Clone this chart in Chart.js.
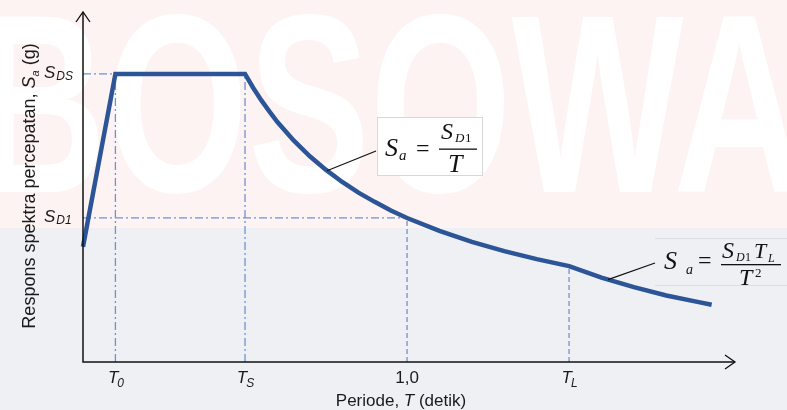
<!DOCTYPE html>
<html><head><meta charset="utf-8">
<script src="https://cdn.jsdelivr.net/npm/chart.js@4/dist/chart.umd.min.js"></script>
<style>html,body{margin:0;padding:0;background:#fff;}#wrap{width:787px;height:410px;position:relative}</style>
</head><body><div id="wrap"><canvas id="c" width="787" height="410"></canvas></div>
<script>
// ---- data (T in s, Sa in g; SDS = 1.0, SD1 = 0.5 normalised) ----
const periodT    = [0, 0.1, 0.5, 0.525, 0.55, 0.575, 0.6, 0.65, 0.7, 0.75, 0.8, 0.85, 0.9, 0.95, 1.0, 1.1, 1.2, 1.3, 1.4, 1.5, 1.6, 1.7, 1.8, 1.9, 1.94];
const spectrumSa = [0.4, 1.0, 1.0, 0.952, 0.909, 0.870, 0.833, 0.769, 0.714, 0.667, 0.625, 0.588, 0.556, 0.526, 0.500, 0.455, 0.417, 0.385, 0.357, 0.333, 0.293, 0.260, 0.231, 0.208, 0.199];
const SDS = 1.0, SD1 = 0.5, T0 = 0.1, TS = 0.5, T1 = 1.0, TL = 1.5, SaTL = 0.333;
const xTickValues = [T0, TS, T1, TL];
const xTickLabels = [['T','0'], ['T','S'], ['1,0',''], ['T','L']];
const yTickValues = [SDS, SD1];
const yTickLabels = [['S','DS'], ['S','D1']];
const leaderAnchors = [[0.753, 0.664], [1.62, 0.286]];
const xMax = 2.012, yMax = 1.215;

const guideColor = '#6f91d4';
const dashDot = [8, 3, 2, 3];
const dashed = [5, 3];
function guide(pts, dash){
  return {data: pts, borderColor: guideColor, borderWidth: 1.3, borderDash: dash, pointRadius: 0, order: 2, clip: false, tension: 0};
}

const SANS = '"Liberation Sans", Arial, sans-serif';
const SERIF = '"Liberation Serif", "Times New Roman", serif';

const deco = {
  id: 'deco',
  beforeDraw(chart){
    const ctx = chart.ctx;
    ctx.save();
    ctx.fillStyle = '#ffffff'; ctx.fillRect(0,0,787,410);
    ctx.fillStyle = '#fdf3f3'; ctx.fillRect(0,0,787,228);
    ctx.fillStyle = '#eff0f4'; ctx.fillRect(0,228,787,182);
    // faint watermark
    ctx.save();
    ctx.beginPath(); ctx.rect(0,0,787,228); ctx.clip();
    ctx.font = 'bold 254px ' + SANS;
    const w = ctx.measureText('BOSOWA').width;
    ctx.translate(-25, 192);
    ctx.scale(830 / w, 1);
    ctx.fillStyle = '#ffffff';
    ctx.fillText('BOSOWA', 0, 0);
    ctx.restore();
    ctx.restore();
  },
  afterDatasetsDraw(chart){
    const ctx = chart.ctx, xs = chart.scales.x, ys = chart.scales.y;
    const ca = chart.chartArea;
    ctx.save();
    // axes
    ctx.strokeStyle = '#111'; ctx.lineWidth = 1.5;
    ctx.beginPath();
    ctx.moveTo(ca.left, ca.top); ctx.lineTo(ca.left, ca.bottom); ctx.lineTo(ca.right, ca.bottom);
    ctx.stroke();
    ctx.lineWidth = 1.3;
    ctx.beginPath();
    ctx.moveTo(ca.left - 7, ca.top + 10); ctx.lineTo(ca.left, ca.top); ctx.lineTo(ca.left + 7, ca.top + 10);
    ctx.moveTo(ca.right - 10, ca.bottom - 7); ctx.lineTo(ca.right, ca.bottom); ctx.lineTo(ca.right - 10, ca.bottom + 7);
    ctx.stroke();

    ctx.fillStyle = '#1a1a1a';
    ctx.textBaseline = 'alphabetic';
    // x tick labels
    xTickValues.forEach((v, i) => {
      const px = xs.getPixelForValue(v);
      const [main, sub] = xTickLabels[i];
      if (!sub) {
        ctx.font = '17px ' + SANS; ctx.textAlign = 'center';
        ctx.fillText(main, px, 383);
      } else {
        ctx.textAlign = 'left';
        ctx.font = 'italic 17px ' + SANS;
        const mw = ctx.measureText(main).width;
        ctx.font = 'italic 12px ' + SANS;
        const sw = ctx.measureText(sub).width;
        const x0 = px - (mw + sw) / 2 + 1;
        ctx.font = 'italic 17px ' + SANS; ctx.fillText(main, x0, 383);
        ctx.font = 'italic 12px ' + SANS; ctx.fillText(sub, x0 + mw - 1, 387);
      }
    });
    // y tick labels
    yTickValues.forEach((v, i) => {
      const py = ys.getPixelForValue(v);
      const [main, sub] = yTickLabels[i];
      ctx.textAlign = 'left';
      ctx.font = 'italic 17px ' + SANS;
      const mw = ctx.measureText(main).width;
      ctx.fillText(main, 44, py + 4);
      ctx.font = 'italic 12px ' + SANS;
      ctx.fillText(sub, 44 + mw + 1, py + 6);
    });
    // x title
    ctx.textAlign = 'left';
    const p1 = 'Periode, ', p2 = 'T', p3 = ' (detik)';
    ctx.font = '17px ' + SANS; const w1 = ctx.measureText(p1).width, w3 = ctx.measureText(p3).width;
    ctx.font = 'italic 17px ' + SANS; const w2 = ctx.measureText(p2).width;
    let tx = 401 - (w1 + w2 + w3) / 2;
    ctx.font = '17px ' + SANS; ctx.fillText(p1, tx, 406);
    ctx.font = 'italic 17px ' + SANS; ctx.fillText(p2, tx + w1, 406);
    ctx.font = '17px ' + SANS; ctx.fillText(p3, tx + w1 + w2, 406);
    // y title (rotated)
    ctx.save();
    ctx.translate(35, 186);
    ctx.rotate(-Math.PI / 2);
    const q1 = 'Respons spektra percepatan, ', q2 = 'S', q3 = 'a', q4 = ' (g)';
    const fs = 18;
    ctx.font = fs + 'px ' + SANS; const v1 = ctx.measureText(q1).width, v4 = ctx.measureText(q4).width;
    ctx.font = 'italic ' + fs + 'px ' + SANS; const v2 = ctx.measureText(q2).width;
    ctx.font = 'italic 11px ' + SANS; const v3 = ctx.measureText(q3).width;
    let qx = -(v1 + v2 + v3 + v4) / 2;
    ctx.font = fs + 'px ' + SANS; ctx.fillText(q1, qx, 0);
    ctx.font = 'italic ' + fs + 'px ' + SANS; ctx.fillText(q2, qx + v1, 0);
    ctx.font = 'italic 11px ' + SANS; ctx.fillText(q3, qx + v1 + v2, 4);
    ctx.font = fs + 'px ' + SANS; ctx.fillText(q4, qx + v1 + v2 + v3, 0);
    ctx.restore();

    // formula box 1
    ctx.fillStyle = '#ffffff';
    ctx.fillRect(378, 117, 105, 58);
    ctx.strokeStyle = '#d8d8d8'; ctx.lineWidth = 1;
    ctx.strokeRect(377.5, 117.5, 105, 58);
    // leader lines
    ctx.strokeStyle = '#111'; ctx.lineWidth = 1.2;
    const a1 = leaderAnchors[0], a2 = leaderAnchors[1];
    ctx.beginPath();
    ctx.moveTo(xs.getPixelForValue(a1[0]), ys.getPixelForValue(a1[1]));
    ctx.lineTo(376, 151);
    ctx.moveTo(xs.getPixelForValue(a2[0]), ys.getPixelForValue(a2[1]));
    ctx.lineTo(655, 263);
    ctx.stroke();

    ctx.fillStyle = '#111';
    ctx.textAlign = 'left';
    ctx.font = 'italic 26px ' + SERIF; ctx.fillText('S', 385, 156);
    ctx.font = 'italic 15px ' + SERIF; ctx.fillText('a', 399, 160);
    ctx.font = '24px ' + SERIF; ctx.fillText('=', 416, 156);
    ctx.font = 'italic 24px ' + SERIF; ctx.fillText('S', 441, 139);
    ctx.font = 'italic 13px ' + SERIF; ctx.fillText('D', 455, 142);
    ctx.font = '13px ' + SERIF; ctx.fillText('1', 465, 142);
    ctx.fillRect(439, 148.5, 38, 1.3);
    ctx.font = 'italic 26px ' + SERIF; ctx.fillText('T', 448, 172);

    // formula 2 (faint box lines)
    ctx.strokeStyle = '#dcdde2'; ctx.lineWidth = 1;
    ctx.beginPath();
    ctx.moveTo(655, 238.5); ctx.lineTo(787, 238.5);
    ctx.moveTo(655, 285.5); ctx.lineTo(787, 285.5);
    ctx.stroke();
    ctx.fillStyle = '#111';
    ctx.font = 'italic 26px ' + SERIF; ctx.fillText('S', 664, 269);
    ctx.font = 'italic 14px ' + SERIF; ctx.fillText('a', 686, 274);
    ctx.font = '24px ' + SERIF; ctx.fillText('=', 698, 268);
    ctx.font = 'italic 24px ' + SERIF; ctx.fillText('S', 722, 258);
    ctx.font = 'italic 12px ' + SERIF; ctx.fillText('D', 736, 261);
    ctx.font = '12px ' + SERIF; ctx.fillText('1', 745, 261);
    ctx.font = 'italic 22px ' + SERIF; ctx.fillText('T', 754, 258);
    ctx.font = 'italic 12px ' + SERIF; ctx.fillText('L', 768, 262);
    ctx.fillRect(721, 264, 60, 1.3);
    ctx.font = 'italic 24px ' + SERIF; ctx.fillText('T', 739, 285);
    ctx.font = '13px ' + SERIF; ctx.fillText('2', 755, 277);
    ctx.restore();
  }
};

const mainPoints = periodT.map((t, i) => ({x: t, y: spectrumSa[i]}));

new Chart(document.getElementById('c'), {
  type: 'line',
  data: {
    datasets: [
      {data: mainPoints, borderColor: '#2c5597', borderWidth: 4.5, pointRadius: 0, tension: 0,
       borderJoinStyle: 'miter', borderCapStyle: 'butt', order: 0, clip: false},
      guide([{x: 0, y: SDS}, {x: TS, y: SDS}], dashDot),
      guide([{x: 0, y: SD1}, {x: T1, y: SD1}], dashDot),
      guide([{x: T0, y: 0}, {x: T0, y: SDS}], dashDot),
      guide([{x: TS, y: 0}, {x: TS, y: SDS}], dashDot),
      guide([{x: T1, y: 0}, {x: T1, y: SD1}], dashed),
      guide([{x: TL, y: 0}, {x: TL, y: SaTL}], dashed)
    ]
  },
  options: {
    responsive: false, animation: false, devicePixelRatio: 1,
    layout: {padding: {left: 83, top: 12, right: 52, bottom: 48}},
    plugins: {legend: {display: false}, tooltip: {enabled: false}},
    scales: {
      x: {type: 'linear', min: 0, max: xMax, display: false},
      y: {type: 'linear', min: 0, max: yMax, display: false}
    }
  },
  plugins: [deco]
});
</script>
</body></html>
